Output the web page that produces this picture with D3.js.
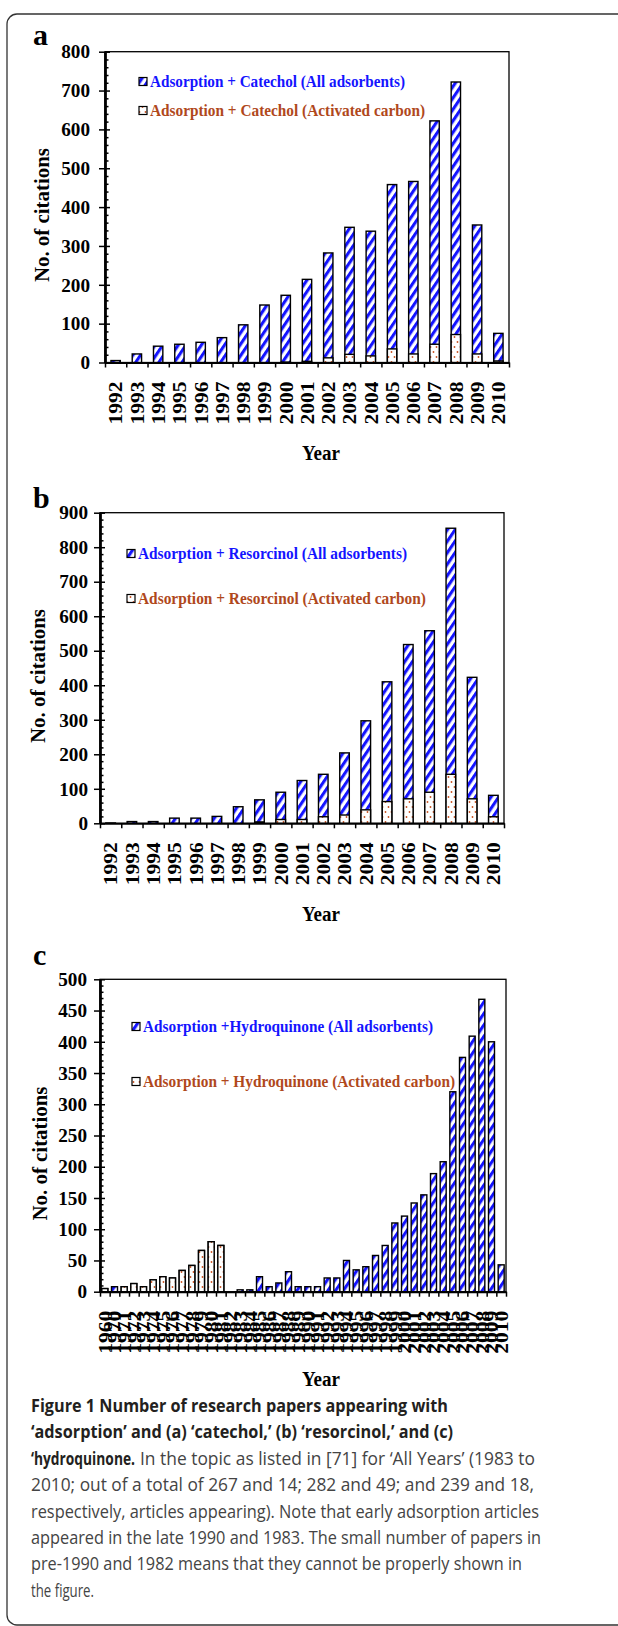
<!DOCTYPE html>
<html>
<head>
<meta charset="utf-8">
<script src="https://cdn.jsdelivr.net/npm/d3@7"></script>
<style>
    body { margin: 0; background: #fff; }
    svg text { font-family: "Liberation Serif", "Times New Roman", serif; font-weight: bold; }
</style>
</head>
<body>
<div id="chart"></div>
<script>

// ---- panel a : catechol ----
const yearsA = ["1992","1993","1994","1995","1996","1997","1998","1999","2000","2001",
                "2002","2003","2004","2005","2006","2007","2008","2009","2010"];
const catecholAll    = [5, 22, 42, 47, 52, 64, 97, 148, 173, 214, 282, 348, 338, 458, 466, 622, 722, 354, 75];
const catecholCarbon = [0, 0, 0, 0, 0, 0, 0, 0, 1, 3, 12, 21, 17, 35, 22, 47, 72, 22, 4];

// ---- panel b : resorcinol ----
const yearsB = ["1992","1993","1994","1995","1996","1997","1998","1999","2000","2001",
                "2002","2003","2004","2005","2006","2007","2008","2009","2010"];
const resorcinolAll    = [1, 5, 5, 15, 15, 20, 48, 68, 90, 124, 142, 204, 297, 410, 518, 558, 855, 423, 81];
const resorcinolCarbon = [0, 0, 0, 0, 0, 0, 0, 4, 11, 11, 19, 24, 39, 63, 71, 90, 142, 71, 19];

// ---- panel c : hydroquinone ----
const yearsC = ["1960","1970","1971","1972","1973","1974","1975","1976","1977","1978",
                "1979","1980","1981","1982","1983","1984","1985","1986","1987","1988",
                "1989","1990","1991","1992","1993","1994","1995","1996","1997","1998",
                "1999","2000","2001","2002","2003","2004","2005","2006","2007","2008",
                "2009","2010"];
const hydroAll    = [5, 8, 8, 13, 8, 19, 24, 22, 34, 42, 66, 80, 74, 0, 3, 3, 24, 8, 14, 32,
                     8, 8, 8, 22, 22, 50, 35, 40, 58, 74, 110, 121, 142, 155, 189, 208, 320, 375, 409, 468,
                     400, 43];
const hydroCarbon = [5, 0, 8, 13, 8, 19, 24, 22, 34, 42, 66, 80, 74, 0, 0, 0, 0, 0, 0, 0,
                     0, 0, 0, 0, 0, 0, 0, 0, 0, 0, 0, 0, 0, 0, 0, 0, 0, 0, 0, 0,
                     0, 0];

const legendA = ["Adsorption + Catechol (All adsorbents)", "Adsorption + Catechol (Activated carbon)"];
const legendB = ["Adsorption + Resorcinol (All adsorbents)", "Adsorption + Resorcinol (Activated carbon)"];
const legendC = ["Adsorption +Hydroquinone  (All adsorbents)", "Adsorption + Hydroquinone (Activated carbon)"];

const captionBold = ["Figure 1 Number of research papers appearing with",
                     "\u2018adsorption\u2019 and (a) \u2018catechol,\u2019 (b) \u2018resorcinol,\u2019 and (c)",
                     "\u2018hydroquinone."];
const captionText = ["In the topic as listed in [71] for \u2018All Years\u2019 (1983 to",
                     "2010; out of a total of 267 and 14; 282 and 49; and 239 and 18,",
                     "respectively, articles appearing). Note that early adsorption articles",
                     "appeared in the late 1990 and 1983. The small number of papers in",
                     "pre-1990 and 1982 means that they cannot be properly shown in",
                     "the figure."];

const BLUE = "#1414ff", BROWN = "#b0481c", DOT = "#c8501e";

let svg = d3.select("#chart").append("svg")
    .attr("width", 618)
    .attr("height", 1626);

// outer rounded box of the figure
svg.append("rect")
    .attr("x", 7).attr("y", 14)
    .attr("width", 700).attr("height", 1611)
    .attr("rx", 10)
    .attr("fill", "none")
    .attr("stroke", "#333")
    .attr("stroke-width", 1.3);

// fill patterns
let defs = svg.append("defs");
let hatch = defs.append("pattern")
    .attr("id", "hatch")
    .attr("patternUnits", "userSpaceOnUse")
    .attr("width", 6.4).attr("height", 10)
    .attr("patternTransform", "rotate(34)");
hatch.append("rect").attr("width", 6.4).attr("height", 10).attr("fill", "#fff");
hatch.append("rect").attr("width", 3.1).attr("height", 10).attr("fill", BLUE);

let dots = defs.append("pattern")
    .attr("id", "dots")
    .attr("patternUnits", "userSpaceOnUse")
    .attr("width", 6).attr("height", 10);
dots.append("rect").attr("width", 6).attr("height", 10).attr("fill", "#fff");
dots.append("circle").attr("cx", 1.5).attr("cy", 2).attr("r", 0.9).attr("fill", DOT);
dots.append("circle").attr("cx", 4.5).attr("cy", 7).attr("r", 0.9).attr("fill", DOT);


function drawPanel(cfg) {
    let g = svg.append("g");
    let n = cfg.years.length;

    let y = d3.scaleLinear()
        .domain([0, cfg.yMax])
        .range([cfg.bottom, cfg.top]);

    let xBar = d3.scaleBand()
        .domain(cfg.years)
        .range([cfg.left, cfg.right])
        .paddingInner(cfg.pad)
        .paddingOuter(cfg.pad / 2);

    let xEdge = d3.scaleLinear()
        .domain([0, n])
        .range([cfg.left, cfg.right]);

    // frame
    g.append("rect")
        .attr("x", cfg.left).attr("y", cfg.top)
        .attr("width", cfg.right - cfg.left)
        .attr("height", cfg.bottom - cfg.top)
        .attr("fill", "none")
        .attr("stroke", "#000")
        .attr("stroke-width", 1.3);

    // bars: all adsorbents, then activated carbon over the bottom part
    let rows = cfg.years.map((d, i) => ({year: d, all: cfg.all[i], carbon: cfg.carbon[i]}));

    g.selectAll(".bar-all")
        .data(rows.filter(d => d.all > 0))
        .enter().append("rect")
        .attr("class", "bar-all")
        .attr("x", d => xBar(d.year))
        .attr("width", xBar.bandwidth())
        .attr("y", d => y(d.all))
        .attr("height", d => y(0) - y(d.all))
        .attr("fill", "url(#hatch)")
        .attr("stroke", "#000")
        .attr("stroke-width", 1.4);

    g.selectAll(".bar-ac")
        .data(rows.filter(d => d.carbon > 0))
        .enter().append("rect")
        .attr("class", "bar-ac")
        .attr("x", d => xBar(d.year))
        .attr("width", xBar.bandwidth())
        .attr("y", d => y(d.carbon))
        .attr("height", d => y(0) - y(d.carbon))
        .attr("fill", "url(#dots)")
        .attr("stroke", "#000")
        .attr("stroke-width", 1.4);

    // y axis: major ticks crossing, minor ticks inside
    let majors = d3.range(0, cfg.yMax + 1, cfg.major);
    let minors = d3.range(0, cfg.yMax + 1, cfg.minor).filter(v => v % cfg.major !== 0);

    let yAxis = g.append("g")
        .attr("transform", "translate(" + cfg.left + ",0)")
        .call(d3.axisLeft(y).tickValues(majors).tickSize(6).tickSizeOuter(0).tickPadding(cfg.labelPad))
        .attr("font-family", null)
        .attr("font-size", 19.5);
    yAxis.selectAll("text")
        .attr("textLength", d => String(d).length * 9.6)
        .attr("lengthAdjust", "spacingAndGlyphs");

    g.append("g")
        .attr("transform", "translate(" + cfg.left + ",0)")
        .call(d3.axisRight(y).tickValues(majors).tickSize(5).tickSizeOuter(0).tickFormat(""));
    g.append("g")
        .attr("transform", "translate(" + cfg.left + ",0)")
        .call(d3.axisRight(y).tickValues(minors).tickSize(3.5).tickSizeOuter(0).tickFormat(""));

    // x axis: ticks at category boundaries
    g.append("g")
        .attr("transform", "translate(0," + cfg.bottom + ")")
        .call(d3.axisBottom(xEdge).tickValues(d3.range(n + 1)).tickSize(5).tickSizeOuter(0).tickFormat(""));

    g.selectAll(".domain").attr("stroke-width", 2);
    g.selectAll(".tick line").attr("stroke-width", 1.5);

    // rotated year labels
    g.selectAll(".year-label")
        .data(cfg.years)
        .enter().append("text")
        .attr("class", "year-label")
        .attr("transform", d => "translate(" + (xBar(d) + xBar.bandwidth() / 2) + "," + (cfg.bottom + 19) + ") rotate(-90)")
        .attr("text-anchor", "end")
        .attr("dy", "0.36em")
        .attr("font-size", 19)
        .attr("textLength", 43)
        .attr("lengthAdjust", "spacingAndGlyphs")
        .text(d => d);

    // axis titles
    g.append("text")
        .attr("transform", "translate(" + cfg.yTitleX + "," + ((cfg.top + cfg.bottom) / 2 + cfg.yTitleShift) + ") rotate(-90)")
        .attr("text-anchor", "middle")
        .attr("dy", "0.35em")
        .attr("font-size", 20.5)
        .attr("textLength", 134)
        .attr("lengthAdjust", "spacingAndGlyphs")
        .text("No. of citations");

    g.append("text")
        .attr("x", 321)
        .attr("y", cfg.yearY)
        .attr("text-anchor", "middle")
        .attr("font-size", 20)
        .attr("textLength", 38)
        .attr("lengthAdjust", "spacingAndGlyphs")
        .text("Year");

    // panel letter
    g.append("text")
        .attr("x", 33)
        .attr("y", cfg.letterY)
        .attr("font-size", 30)
        .text(cfg.letter);

    // legend
    let fills = ["url(#hatch)", "url(#dots)"];
    let colors = [BLUE, BROWN];
    cfg.legend.forEach((label, i) => {
        g.append("rect")
            .attr("x", cfg.legX).attr("y", cfg.legY[i] - 7.5)
            .attr("width", 8).attr("height", 8)
            .attr("fill", fills[i])
            .attr("stroke", "#000")
            .attr("stroke-width", 1.2);
        g.append("text")
            .attr("x", cfg.legX + 11)
            .attr("y", cfg.legY[i] + 1.5)
            .attr("font-size", 17.5)
            .attr("fill", colors[i])
            .attr("textLength", cfg.legLen[i])
            .attr("lengthAdjust", "spacingAndGlyphs")
            .text(label);
    });
}

drawPanel({
    letter: "a", letterY: 45,
    years: yearsA, all: catecholAll, carbon: catecholCarbon,
    left: 105, right: 509, top: 51.7, bottom: 362.5,
    yMax: 800, major: 100, minor: 20, pad: 0.56, labelPad: 9,
    yTitleX: 42, yTitleShift: 8, yearY: 460,
    legend: legendA, legX: 139, legY: [85, 114], legLen: [255, 275]
});

drawPanel({
    letter: "b", letterY: 508,
    years: yearsB, all: resorcinolAll, carbon: resorcinolCarbon,
    left: 100, right: 504, top: 512.7, bottom: 823.3,
    yMax: 900, major: 100, minor: 20, pad: 0.55, labelPad: 6,
    yTitleX: 38, yTitleShift: 8, yearY: 921,
    legend: legendB, legX: 127, legY: [557, 602], legLen: [269, 288]
});

drawPanel({
    letter: "c", letterY: 965,
    years: yearsC, all: hydroAll, carbon: hydroCarbon,
    left: 100, right: 506, top: 979.3, bottom: 1291.7,
    yMax: 500, major: 50, minor: 10, pad: 0.38, labelPad: 7,
    yTitleX: 40, yTitleShift: 18, yearY: 1386,
    legend: legendC, legX: 132, legY: [1030, 1085], legLen: [290, 312]
});

// caption
let boldLen = [417, 422, 104];
let textLen = [395, 503, 508, 510, 491, 63];
let lineY = i => 1412 + i * 26.4;
let cap = svg.append("g");

captionBold.forEach((t, i) => {
    cap.append("text")
        .attr("x", 31)
        .attr("y", lineY(i))
        .attr("font-size", 18)
        .style("font-family", "'Open Sans', 'Noto Sans', sans-serif")
        .style("font-weight", "bold")
        .attr("fill", "#231f20")
        .attr("textLength", boldLen[i])
        .attr("lengthAdjust", "spacingAndGlyphs")
        .text(t);
});
captionText.forEach((t, i) => {
    cap.append("text")
        .attr("x", i === 0 ? 140 : 31)
        .attr("y", lineY(i + 2))
        .attr("font-size", 18)
        .style("font-family", "'Open Sans', 'Noto Sans', sans-serif")
        .style("font-weight", "normal")
        .attr("fill", "#444")
        .attr("textLength", textLen[i])
        .attr("lengthAdjust", "spacingAndGlyphs")
        .text(t);
});

</script>
</body>
</html>
